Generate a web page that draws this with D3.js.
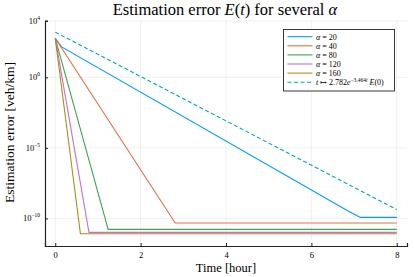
<!DOCTYPE html>
<html>
<head>
<script src="https://d3js.org/d3.v7.min.js"></script>
<style>
  body { margin: 0; background: #fff; }
  text { font-family: "Liberation Serif", "DejaVu Serif", serif; fill: #000; }
  .grid line { stroke: #000; stroke-opacity: 0.1; stroke-width: 0.6; }
  .tick-lbl { font-size: 8.5px; }
</style>
</head>
<body>
<svg width="415" height="277"></svg>
<script>
// values (time in hours, error in veh/km)
var labels = ["\u03b1 = 20", "\u03b1 = 40", "\u03b1 = 80", "\u03b1 = 120", "\u03b1 = 160"];
var colors = ["#009afa", "#e36f47", "#3ea44e", "#c371d2", "#ac8e18"];
var t20 = [0, 0.15, 6.85, 7.15, 8];
var e20 = [590, 145, 3.5e-10, 1.17e-10, 1.17e-10];
var t40 = [0, 2.81, 8];
var e40 = [590, 4.7e-11, 4.7e-11];
var t80 = [0, 1.24, 8];
var e80 = [590, 1.66e-11, 1.66e-11];
var t120 = [0, 0.79, 8];
var e120 = [590, 1.02e-11, 1.02e-11];
var t160 = [0, 0.59, 8];
var e160 = [590, 8.1e-12, 8.1e-12];
var tBound = [0, 8];
var eBound = [1620, 4.2e-10];
var xTicks = [0, 2, 4, 6, 8];
var yTicks = [1e4, 1, 1e-5, 1e-10];
var yTickExp = ["4", "0", "\u22125", "\u221210"];

var svg = d3.select("svg");
var mLeft = 45, mRight = 407, mTop = 20.5, mBottom = 246;

var x = d3.scaleLinear().domain([-0.24, 8.24]).range([mLeft, mRight]);
var y = d3.scaleLog().domain([1.1e-12, 1.08e4]).range([mBottom, mTop]);

// grid
var grid = svg.append("g").attr("class", "grid");
grid.selectAll(".vx").data(xTicks).enter().append("line")
    .attr("x1", d => x(d)).attr("x2", d => x(d)).attr("y1", mTop).attr("y2", mBottom);
grid.selectAll(".hy").data(yTicks).enter().append("line")
    .attr("x1", mLeft).attr("x2", mRight).attr("y1", d => y(d)).attr("y2", d => y(d));

// series
var series = [[t20, e20], [t40, e40], [t80, e80], [t120, e120], [t160, e160]];
var line = d3.line().x(d => x(d[0])).y(d => y(d[1]));

series.forEach(function(s, i) {
    var pts = s[0].map((t, j) => [t, s[1][j]]);
    svg.append("path").datum(pts)
        .attr("d", line).attr("fill", "none")
        .attr("stroke", colors[i]).attr("stroke-width", 1.1);
});
svg.append("path").datum(tBound.map((t, j) => [t, eBound[j]]))
    .attr("d", line).attr("fill", "none")
    .attr("stroke", "#00a9ad").attr("stroke-width", 1.1)
    .attr("stroke-dasharray", "4,2.5");

// axes
var xAxis = svg.append("g").attr("transform", "translate(0," + mBottom + ")")
    .call(d3.axisBottom(x).tickValues(xTicks).tickSize(-3).tickPadding(6).tickFormat(d3.format("d")));
var yAxis = svg.append("g").attr("transform", "translate(" + mLeft + ",0)")
    .call(d3.axisLeft(y).tickValues(yTicks).tickSize(-3).tickPadding(5).tickFormat(""));
[xAxis, yAxis].forEach(function(a) {
    a.select(".domain").attr("stroke", "#222").attr("stroke-width", 1.2);
    a.selectAll(".tick line").attr("stroke", "#222");
});
xAxis.selectAll("text").attr("class", "tick-lbl").style("font-family", "Liberation Serif").attr("font-size", 8.5);

// y tick labels with superscripts
var yl = svg.append("g").selectAll("text").data(yTicks).enter().append("text")
    .attr("class", "tick-lbl")
    .attr("x", 40)
    .attr("y", d => y(d) + 3)
    .attr("text-anchor", "end");
yl.append("tspan").text("10");
yl.append("tspan").attr("dy", -4).attr("font-size", 5.5).text((d, i) => yTickExp[i]);

// title and axis labels
svg.append("text").attr("x", 225).attr("y", 14.5)
    .attr("text-anchor", "middle").attr("font-size", 16.5)
    .html("Estimation error <tspan font-style='italic'>E</tspan>(<tspan font-style='italic'>t</tspan>) for several <tspan font-style='italic'>\u03b1</tspan>");
svg.append("text").attr("x", 226).attr("y", 272)
    .attr("text-anchor", "middle").attr("font-size", 12.5).text("Time [hour]");
svg.append("text").attr("transform", "translate(14,132.5) rotate(-90)")
    .attr("text-anchor", "middle").attr("font-size", 13.5).text("Estimation error [veh/km]");

// legend
var lg = svg.append("g").attr("transform", "translate(283.5,29.5)");
lg.append("rect").attr("width", 111).attr("height", 61.5)
    .attr("fill", "#fff").attr("stroke", "#222").attr("stroke-width", 0.9);
var rows = labels.map((l, i) => ({ l: l, c: colors[i], dash: null }));
rows.push({ l: null, c: "#00a9ad", dash: "4,2.5" });
rows.forEach(function(r, i) {
    var yy = 7.2 + i * 9.1;
    lg.append("line").attr("x1", 4).attr("x2", 29).attr("y1", yy).attr("y2", yy)
        .attr("stroke", r.c).attr("stroke-width", 1.1).attr("stroke-dasharray", r.dash);
    var tx = lg.append("text").attr("x", 32.5).attr("y", yy + 2.8).attr("font-size", 8);
    if (r.l) {
        tx.html("<tspan font-style='italic'>\u03b1</tspan> = " + r.l.split("= ")[1]);
    } else {
        tx.html("<tspan font-style='italic'>t</tspan> \u21a6 2.782<tspan font-style='italic'>e</tspan><tspan dy='-3.5' font-size='5.5'>\u22123.464<tspan font-style='italic'>t</tspan></tspan><tspan dy='3.5'> </tspan><tspan font-style='italic'>E</tspan>(0)");
    }
});
</script>
</body>
</html>
